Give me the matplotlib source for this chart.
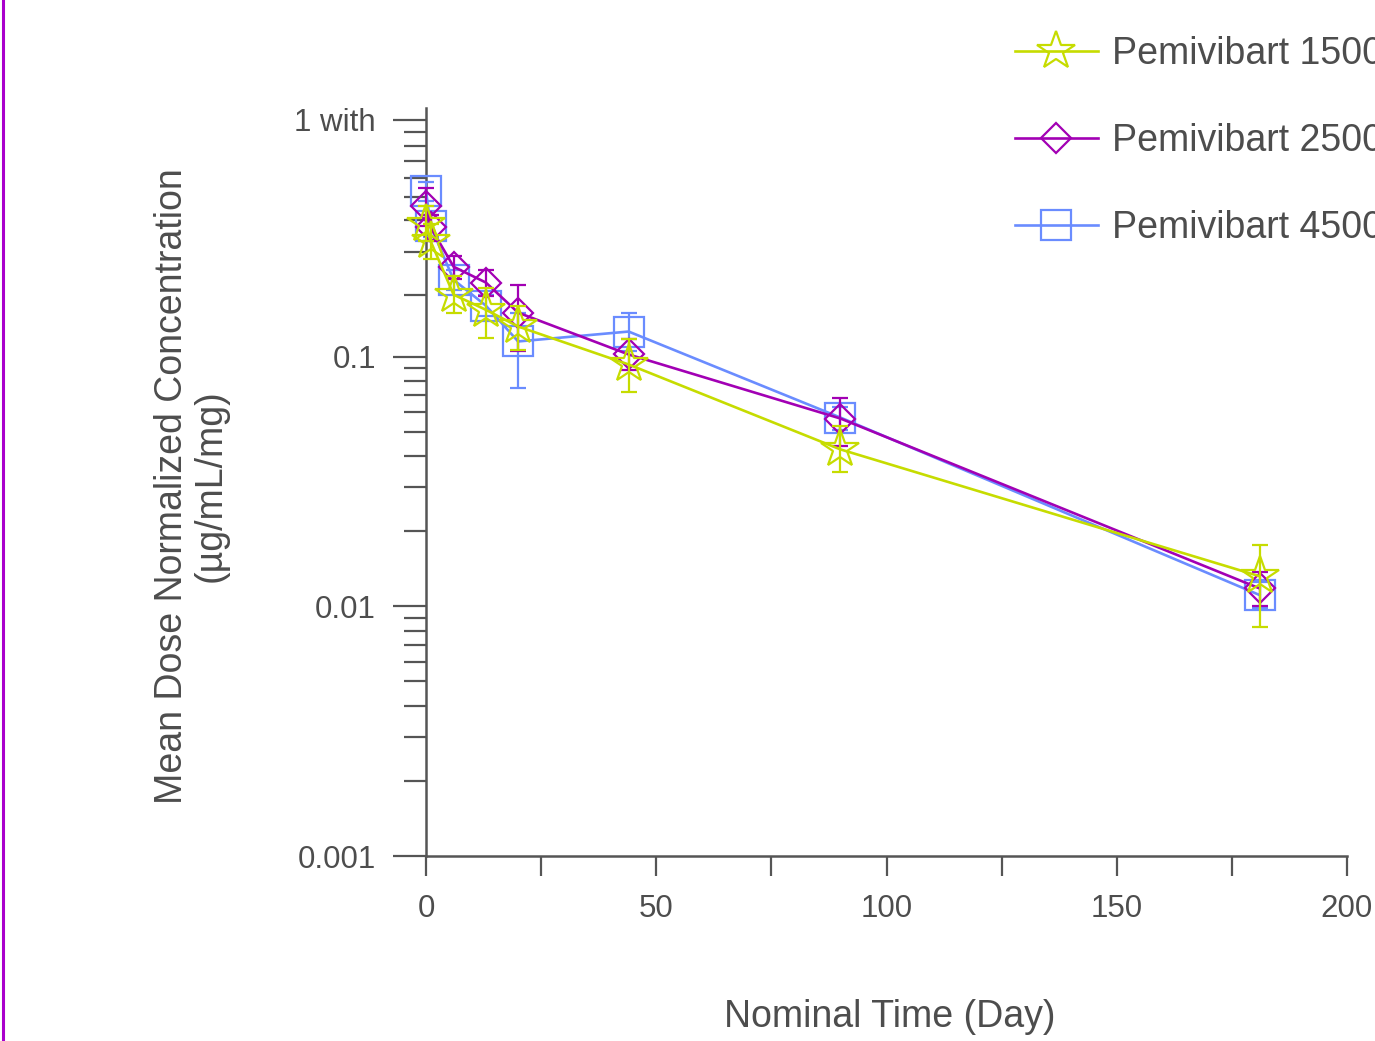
import numpy as np
import matplotlib
matplotlib.use('Agg')
from matplotlib import pyplot as plt
from matplotlib.ticker import FixedLocator, NullFormatter
from matplotlib.lines import Line2D

plt.rcParams['font.family'] = ['Liberation Sans', 'DejaVu Sans']

GREY = '#555555'
TEXT = '#4d4d4d'

days = [0, 1, 6, 13, 20, 44, 90, 181]

# Pemivibart 1500 (stars)
conc_1500 = [0.34, 0.29, 0.177, 0.154, 0.132, 0.093, 0.0425, 0.0132]
lo_1500 = [0.29, 0.245, 0.15, 0.119, 0.106, 0.072, 0.0344, 0.0083]
hi_1500 = [0.40, 0.34, 0.21, 0.189, 0.16, 0.118, 0.0525, 0.0176]

# Pemivibart 2500 (diamonds)
conc_2500 = [0.40, 0.33, 0.229, 0.198, 0.15, 0.102, 0.0565, 0.0118]
lo_2500 = [0.335, 0.29, 0.205, 0.175, 0.105, 0.088, 0.0437, 0.010]
hi_2500 = [0.475, 0.37, 0.253, 0.223, 0.194, 0.118, 0.068, 0.0137]

# Pemivibart 4500 (squares)
conc_4500 = [0.461, 0.334, 0.203, 0.16, 0.115, 0.126, 0.057, 0.0111]
lo_4500 = [0.42, 0.30, 0.185, 0.145, 0.075, 0.105, 0.051, 0.0098]
hi_4500 = [0.50, 0.37, 0.222, 0.176, 0.15, 0.149, 0.063, 0.0125]

series = [
    ('Pemivibart 4500', conc_4500, lo_4500, hi_4500, '#6a8cff', 's', 21, 3),
    ('Pemivibart 2500', conc_2500, lo_2500, hi_2500, '#a200b4', 'D', 15, 4),
    ('Pemivibart 1500', conc_1500, lo_1500, hi_1500, '#c6dc00', '*', 29, 5),
]

y_major = [0.001, 0.01, 0.1, 0.89]
y_major_labels = ['0.001', '0.01', '0.1', '1 with']
y_minor_upper = [0.177, 0.263, 0.354, 0.437, 0.52, 0.61, 0.70, 0.79]

fig = plt.figure(figsize=(13.75, 10.41), dpi=100)
ax = fig.add_axes([426 / 1375, 1 - 856 / 1041, 921 / 1375, 748 / 1041])
ax.set_yscale('log')

handles = {}
for name, c, lo, hi, color, marker, ms, z in series:
    c = np.array(c)
    yerr = [c - np.array(lo), np.array(hi) - c]
    cont = ax.errorbar(days, c, yerr=yerr, color=color, marker=marker, ms=ms,
                       mfc='none', mec=color, mew=1.6, lw=1.9, elinewidth=1.6,
                       capsize=5.5, capthick=1.6, zorder=z)
    for art in cont.get_children():
        art.set_clip_on(False)
    handles[name] = Line2D([], [], color=color, marker=marker, ms=ms,
                           mfc='none', mec=color, mew=1.6, lw=1.9)

ax.set_xlim(0, 200)
ax.set_ylim(0.001, 0.99)

ax.xaxis.set_major_locator(FixedLocator([0, 50, 100, 150, 200]))
ax.xaxis.set_minor_locator(FixedLocator([25, 75, 125, 175]))

lower_minor = [m * 10.0 ** e for e in (-3, -2) for m in range(2, 10)]
ax.yaxis.set_major_locator(FixedLocator(y_major))
ax.yaxis.set_minor_locator(FixedLocator(lower_minor + y_minor_upper))
ax.set_yticklabels(y_major_labels)
ax.yaxis.set_minor_formatter(NullFormatter())

for s in ('top', 'right'):
    ax.spines[s].set_visible(False)
for s in ('left', 'bottom'):
    ax.spines[s].set_color(GREY)
    ax.spines[s].set_linewidth(1.8)

ax.tick_params(axis='y', which='major', length=24, width=1.6, color=GREY,
               pad=12, labelsize=22.5, labelcolor=TEXT)
ax.tick_params(axis='y', which='minor', length=16, width=1.6, color=GREY)
ax.tick_params(axis='x', which='both', length=14.5, width=1.6, color=GREY,
               pad=13, labelsize=22.5, labelcolor=TEXT)

fig.text(191 / 1375, 1 - 486 / 1041,
         'Mean Dose Normalized Concentration\n(µg/mL/mg)',
         rotation=90, ha='center', va='center', multialignment='center',
         fontsize=27, color=TEXT, linespacing=1.1)
fig.text(890 / 1375, 1 - 1017 / 1041, 'Nominal Time (Day)',
         ha='center', va='center', fontsize=27, color=TEXT)

order = ['Pemivibart 1500', 'Pemivibart 2500', 'Pemivibart 4500']
leg = fig.legend([handles[n] for n in order], order, loc='upper left',
                 bbox_to_anchor=(1015 / 1375, 1 - 36 / 1041), frameon=False,
                 fontsize=27, borderpad=0, borderaxespad=0,
                 handlelength=2.2, handletextpad=0.4, labelspacing=1.36)
for t in leg.get_texts():
    t.set_color(TEXT)

# purple frame edge on the left
fig.add_artist(Line2D([3 / 1375, 3 / 1375], [0, 1], color='#aa00cc', lw=2.2,
                      transform=fig.transFigure))

fig.savefig('out.png', dpi=100)
